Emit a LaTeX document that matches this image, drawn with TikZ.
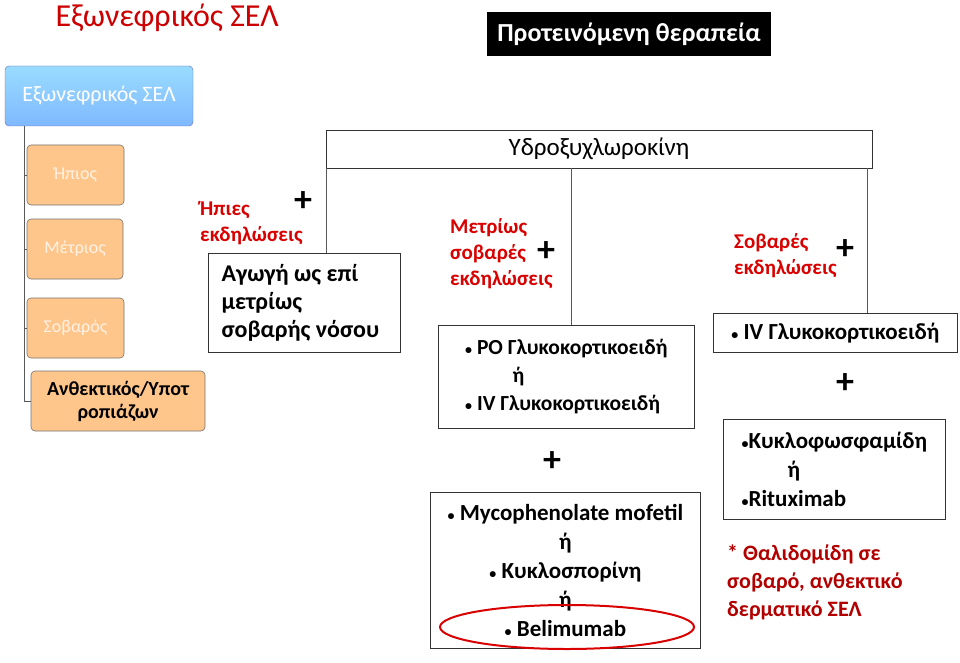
\documentclass[tikz,border=0pt]{standalone}
\usepackage{fontspec}
\setmainfont{Carlito}
\newcommand{\bul}{{\fontsize{14}{14}\selectfont\textbullet}}
\begin{document}
\begin{tikzpicture}[x=1pt,y=-1pt,
  bx/.style={draw=black!80,line width=0.8pt,fill=white},
  ob/.style={draw=black!55,fill=orange!45!white,rounded corners=4pt,line width=0.6pt},
  rd/.style={text=red!85!black,font=\fontsize{21}{26}\selectfont\bfseries,align=left},
  pl/.style={font=\fontsize{36}{36}\selectfont\bfseries,inner sep=0pt},
  ln/.style={draw=black!65,line width=0.8pt}]
\useasboundingbox (0,0) rectangle (960,663);
\node[anchor=west,text=red!80!black,font=\fontsize{32}{36}\selectfont] (title) at (52,18) {Εξωνεφρικός ΣΕΛ};
\node[fill=black,text=white,font=\fontsize{26}{30}\selectfont\bfseries,minimum width=284,minimum height=44,inner sep=0] (th) at (629,34) {Προτεινόμενη θεραπεία};
\node[draw=blue!50!black!60,top color=blue!35!cyan!40!white,bottom color=blue!55!cyan!50!white,rounded corners=4pt,minimum width=188,minimum height=60,text=white,font=\fontsize{22}{26}\selectfont] (root) at (99,96) {Εξωνεφρικός ΣΕΛ};
\node[ob,minimum width=97,minimum height=60,text=white!90!orange,font=\fontsize{18}{20}\selectfont] (h) at (75.5,175) {Ήπιος};
\node[ob,minimum width=96,minimum height=60,text=white!90!orange,font=\fontsize{18}{20}\selectfont] (m) at (75,249) {Μέτριος};
\node[ob,minimum width=97,minimum height=60,text=white!90!orange,font=\fontsize{18}{20}\selectfont] (s) at (75.5,328) {Σοβαρός};
\node[ob,minimum width=174,minimum height=60,align=center,inner sep=1pt,font=\fontsize{20}{23}\selectfont\bfseries] (a) at (118,401) {Ανθεκτικός/Υποτ\\ροπιάζων};
\coordinate (t0) at (24,126);
\draw[ln] (t0) |- (a.west);
\foreach \n in {h,m,s} \draw[ln] (24,0 |- \n.west) -- (\n.west);
\node[bx,minimum width=546,minimum height=38,font=\fontsize{25}{28}\selectfont] (hy) at (599,149) {Υδροξυχλωροκίνη};
\node[bx,minimum width=192,minimum height=99,align=left,anchor=north west,inner xsep=9pt,inner ysep=3pt,font=\fontsize{24}{28}\selectfont\bfseries] (ag) at (208,253) {Αγωγή ως επί\\μετρίως\\σοβαρής νόσου\hspace*{8pt}};
\node[bx,minimum width=256,minimum height=103,anchor=north west,align=left,inner sep=2pt,font=\fontsize{21.5}{28}\selectfont\bfseries] (po) at (438,325) {\bul\ PO Γλυκοκορτικοειδή\\\hspace{2.2em}ή\\\bul\ IV Γλυκοκορτικοειδή};
\node[bx,minimum width=270,minimum height=156,anchor=north west,align=center,inner sep=2pt,font=\fontsize{23}{29}\selectfont\bfseries] (my) at (430,492) {\bul\ Mycophenolate mofetil\\ή\\\bul\ Κυκλοσπορίνη\\ή\\\bul\ Belimumab};
\node[bx,minimum width=244,minimum height=39,anchor=north west,inner sep=2pt,font=\fontsize{23}{26}\selectfont\bfseries] (iv) at (713,313) {\bul\ IV Γλυκοκορτικοειδή};
\node[bx,minimum width=222,minimum height=100,anchor=north west,align=left,inner sep=2pt,font=\fontsize{23}{29}\selectfont\bfseries] (ky) at (723,419) {\bul Κυκλοφωσφαμίδη\\\hspace{2em}ή\\\bul Rituximab};
\draw[ln] (326,168) -- (326,253);
\draw[ln] (571,168) -- (571,325);
\draw[ln] (867,168) -- (867,313);
\draw[red!85!black,line width=2pt] (567,627) ellipse (127 and 22);
\node[rd,anchor=north west,inner sep=0] (r1) at (200,201) {Ήπιες\\εκδηλώσεις};
\node[pl] (p1) at (303,202) {+};
\node[rd,anchor=north west,inner sep=0] (r2) at (450,218) {Μετρίως\\σοβαρές\\εκδηλώσεις};
\node[pl] (p2) at (546,252) {+};
\node[rd,anchor=north west,inner sep=0] (r3) at (734,233) {Σοβαρές\\εκδηλώσεις};
\node[pl] (p3) at (845,250) {+};
\node[pl] (p4) at (552,462) {+};
\node[pl] (p5) at (845,384) {+};
\node[anchor=north west,inner sep=0,align=left,text=red!70!black,font=\fontsize{22}{28}\selectfont\bfseries] (th2) at (727,545) {* Θαλιδομίδη σε\\σοβαρό, ανθεκτικό\\δερματικό ΣΕΛ};
\end{tikzpicture}
\end{document}
